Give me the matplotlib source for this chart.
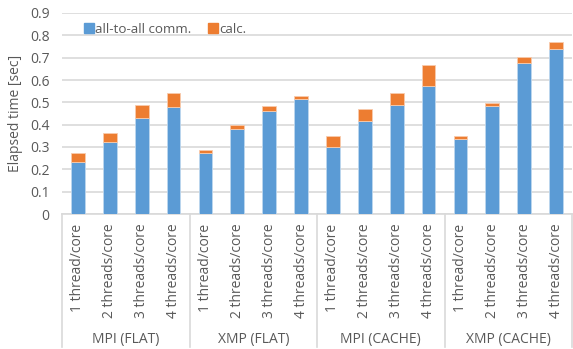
import numpy as np
import matplotlib
matplotlib.use('Agg')
import matplotlib.pyplot as plt
from matplotlib.lines import Line2D

groups = ['MPI (FLAT)', 'XMP (FLAT)', 'MPI (CACHE)', 'XMP (CACHE)']
threads = ['1 thread/core', '2 threads/core', '3 threads/core', '4 threads/core']
comm = [0.235, 0.324, 0.432, 0.477,
        0.272, 0.380, 0.460, 0.514,
        0.302, 0.416, 0.490, 0.574,
        0.335, 0.484, 0.678, 0.740]
total = [0.272, 0.362, 0.490, 0.543,
         0.287, 0.400, 0.484, 0.529,
         0.350, 0.470, 0.544, 0.665,
         0.350, 0.499, 0.702, 0.770]
calc = [t - c for t, c in zip(total, comm)]

BLUE = '#5B9BD5'
ORANGE = '#ED7D31'
TXT = '#595959'
GRID = '#D9D9D9'

plt.rcParams['font.family'] = ['Open Sans', 'DejaVu Sans']

fig = plt.figure(figsize=(5.73, 3.49), dpi=100)
ax = fig.add_axes([62 / 573, 135 / 349, 510 / 573, 201 / 349])

labels = threads * len(groups)
x = np.arange(len(labels))
ax.bar(x, comm, width=0.43, color=BLUE, edgecolor='#BDD7EE', linewidth=0.6, zorder=3)
ax.bar(x, calc, bottom=comm, width=0.43, color=ORANGE, edgecolor='#F8CBAD',
       linewidth=0.6, zorder=3)

ax.set_xlim(-0.5, len(labels) - 0.5)
ax.set_ylim(0, 0.9)
ax.set_yticks(np.arange(0, 0.91, 0.1))
ax.set_yticklabels(['0'] + [f'{v:.1f}' for v in np.arange(0.1, 0.91, 0.1)])
ax.yaxis.grid(True, color=GRID, linewidth=1.2)
ax.set_axisbelow(True)
for s in ['top', 'right', 'left']:
    ax.spines[s].set_visible(False)
ax.spines['bottom'].set_color(GRID)
ax.spines['bottom'].set_linewidth(1.2)

ax.set_xticks(x)
ax.set_xticklabels(labels, rotation=90, fontsize=10, color=TXT)
ax.tick_params(axis='x', length=0, pad=7)
ax.tick_params(axis='y', length=0, labelsize=10, labelcolor=TXT, pad=9)
ax.set_ylabel('Elapsed time [sec]', fontsize=10, color=TXT)
ax.yaxis.set_label_coords(-0.077, 0.5)

# group separators and labels
trans = ax.get_xaxis_transform()
for i in range(len(groups) + 1):
    ax.plot([i * 4 - 0.5] * 2, [0, -0.66], transform=trans, color=GRID,
            linewidth=1.2, clip_on=False)
for i, g in enumerate(groups):
    ax.text(i * 4 + 1.5, -0.625, g, transform=trans, ha='center', va='center',
            fontsize=10, color=TXT)

handles = [Line2D([], [], marker='s', linestyle='', color=BLUE, markersize=7),
           Line2D([], [], marker='s', linestyle='', color=ORANGE, markersize=7)]
ax.legend(handles, ['all-to-all comm.', 'calc.'], loc='center left',
          bbox_to_anchor=(0.018, 0.92), ncol=2, frameon=False, fontsize=9.6,
          handlelength=0.8, handletextpad=0.1, columnspacing=1.2, labelcolor=TXT)

fig.savefig('out.png', dpi=100)
